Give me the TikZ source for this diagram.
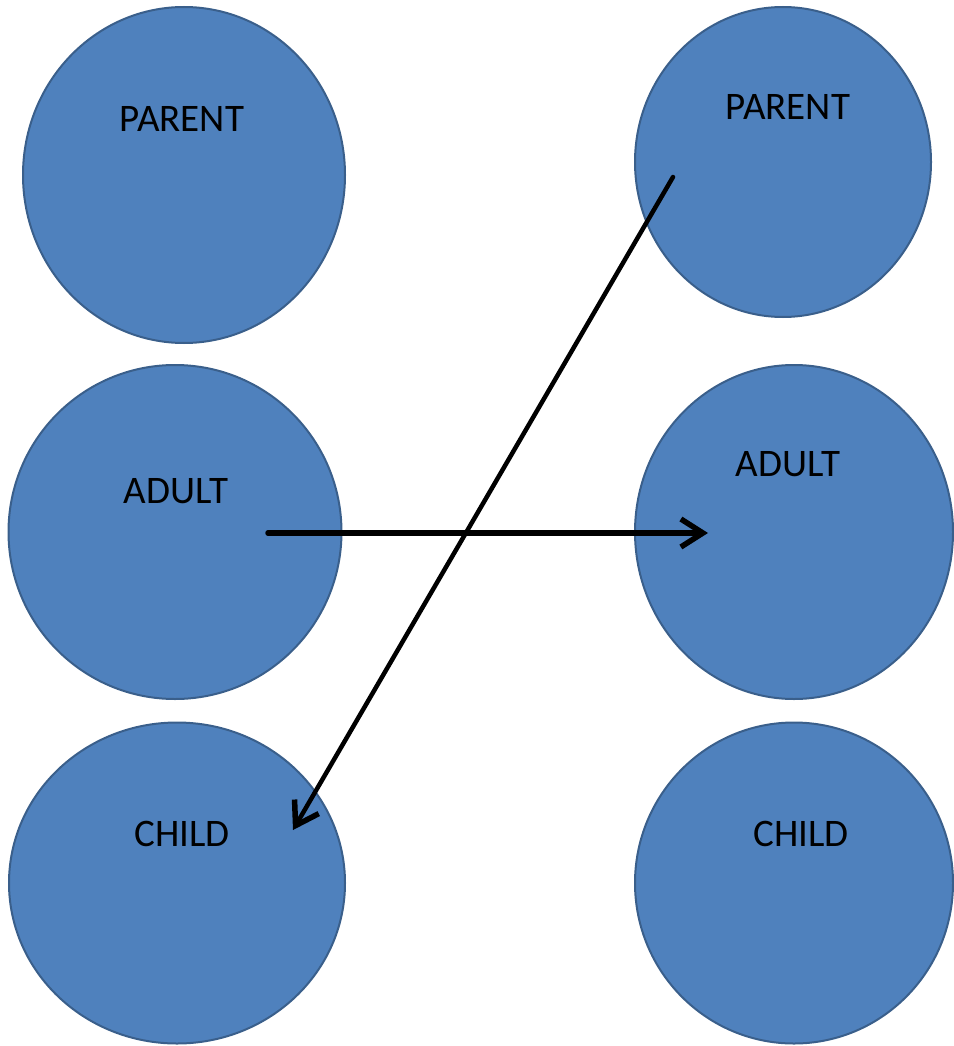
\documentclass[tikz,border=0pt]{standalone}
\usepackage{fontspec}
\setmainfont{Carlito}
\usetikzlibrary{shapes.geometric,arrows.meta}
\definecolor{fillblue}{HTML}{4F81BD}
\definecolor{edgeblue}{HTML}{3A5F8B}
\begin{document}
\begin{tikzpicture}[x=1pt,y=-1pt,
  blob/.style={ellipse,draw=edgeblue,fill=fillblue,line width=2pt,inner sep=0pt},
  lbl/.style={font=\fontsize{39}{43}\selectfont,text=black,inner sep=0pt},
  conn/.style={draw=black,line width=5.5pt,line cap=round,-{Straight Barb[length=22pt,width=28pt,line width=5.5pt]}}]
\useasboundingbox (0,0) rectangle (953,1046);
% circles
\node[blob,minimum width=322pt,minimum height=336pt] (lp) at (184,175) {};
\node[blob,minimum width=333pt,minimum height=334pt] (la) at (175,532) {};
\node[blob,minimum width=336pt,minimum height=321pt] (lc) at (177,883) {};
\node[blob,minimum width=296pt,minimum height=310pt] (rp) at (783,162) {};
\node[blob,minimum width=318pt,minimum height=334pt] (ra) at (794,532) {};
\node[blob,minimum width=318pt,minimum height=321pt] (rc) at (794,883) {};
% labels
\node[lbl] (tlp) at (182,119) {PARENT};
\node[lbl] (tla) at (176,491) {ADULT};
\node[lbl] (tlc) at (182,834) {CHILD};
\node[lbl] (trp) at (788,107) {PARENT};
\node[lbl] (tra) at (788,464) {ADULT};
\node[lbl] (trc) at (801,834) {CHILD};
% connector ends
\coordinate (a1) at (268,533);
\coordinate (a2) at (708,533);
\coordinate (p1) at (673,177);
\coordinate (c1) at (293,830);
\draw[conn] (a1) -- (a2);
\draw[conn,line width=4.5pt] (p1) -- (c1);
\end{tikzpicture}
\end{document}
